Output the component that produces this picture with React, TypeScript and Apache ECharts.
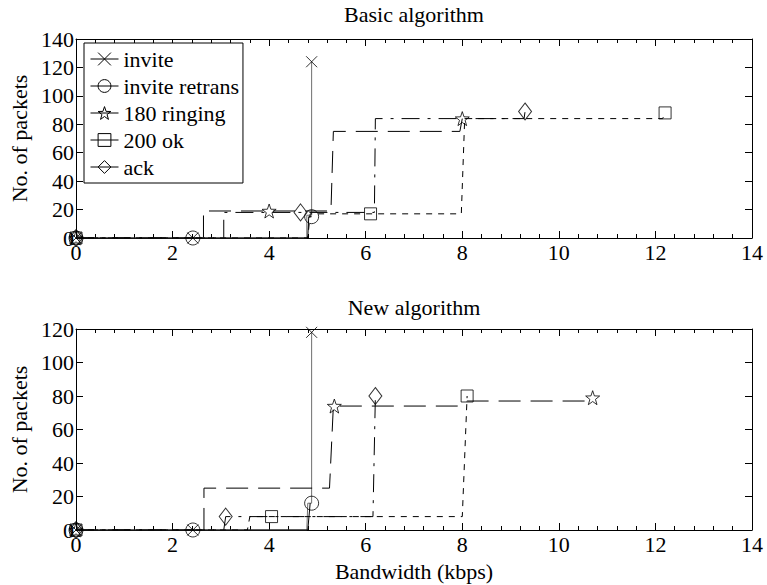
import React, { useEffect, useRef } from "react";
import * as echarts from "echarts";

// ---------- data (Bandwidth kbps, No. of packets) ----------
const seriesNames = ["invite", "invite retrans", "180 ringing", "200 ok", "ack"];
const xTicks = [0, 2, 4, 6, 8, 10, 12, 14];

// Basic algorithm
const basicInvite = [[0, 0], [2.42, 0], [4.78, 0], [4.78, 16], [4.88, 16], [4.88, 124]];
const basicInviteMarks = [[0, 0], [2.42, 0], [4.88, 124]];
const basicRetrans = [[0, 0], [2.42, 0], [4.8, 0], [4.82, 15], [4.88, 15]];
const basicRetransMarks = [[0, 0], [2.42, 0], [4.88, 15]];
const basicRinging = [[0, 0], [2.64, 0], [2.64, 19], [5.28, 19], [5.33, 75], [7.95, 75], [8.0, 84]];
const basicRingingMarks = [[0, 0], [4.0, 19], [8.0, 84]];
const basicOk = [[0, 0], [4.8, 0], [4.85, 17], [7.98, 17], [8.05, 84], [12.15, 84], [12.2, 88]];
const basicOkMarks = [[0, 0], [6.1, 17], [12.2, 88]];
const basicAck = [[0, 0], [3.06, 0], [3.06, 18], [6.18, 18], [6.2, 84], [9.28, 84], [9.3, 89]];
const basicAckMarks = [[0, 0], [4.65, 18], [9.3, 89]];

// New algorithm
const newInvite = [[0, 0], [2.42, 0], [4.78, 0], [4.8, 16], [4.88, 16], [4.88, 118]];
const newInviteMarks = [[0, 0], [2.42, 0], [4.88, 118]];
const newRetrans = [[0, 0], [2.42, 0], [4.8, 0], [4.85, 16]];
const newRetransMarks = [[0, 0], [2.42, 0], [4.88, 16]];
const newRinging = [[0, 0], [2.65, 0], [2.65, 25], [5.25, 25], [5.33, 74], [7.9, 74], [8.1, 77], [10.6, 77], [10.7, 79]];
const newRingingMarks = [[0, 0], [5.35, 74], [10.7, 79]];
const newOk = [[0, 0], [3.55, 0], [3.6, 8], [8.0, 8], [8.1, 80]];
const newOkMarks = [[0, 0], [4.05, 8], [8.1, 80]];
const newAck = [[0, 0], [3.06, 0], [3.1, 8], [6.15, 8], [6.2, 80]];
const newAckMarks = [[0, 0], [3.1, 8], [6.2, 80]];

const FONT = "Liberation Serif";
const FS = 22;

const X_PATH = "path://M0,0L10,10M10,0L0,10";
const STAR_PATH =
  "path://M10,0L12.35,6.76L19.51,6.91L13.8,11.24L15.88,18.09L10,14L4.12,18.09L6.2,11.24L0.49,6.91L7.65,6.76Z";

const styles: Record<string, any> = {
  invite: { color: "#6e6e6e", type: "solid", symbol: X_PATH, size: 11 },
  "invite retrans": { color: "#000", type: "solid", symbol: "circle", size: 14 },
  "180 ringing": { color: "#000", type: [22, 10], symbol: STAR_PATH, size: 14 },
  "200 ok": { color: "#000", type: [6, 6], symbol: "rect", size: 12 },
  ack: { color: "#000", type: [18, 8, 3, 8], symbol: "diamond", size: [13, 17] },
};

const hollow = { color: "rgba(255,255,255,0)", borderColor: "#000", borderWidth: 1 };

function makeSeries(name: string, pts: number[][], marks: number[][], xi: number, yi: number) {
  const s = styles[name];
  return [
    {
      type: "line",
      name,
      xAxisIndex: xi,
      yAxisIndex: yi,
      data: pts,
      symbol: s.symbol,
      symbolSize: s.size,
      showSymbol: false,
      lineStyle: { color: s.color, width: 1, type: s.type },
      itemStyle: hollow,
      z: 3,
    },
    {
      type: "scatter",
      name,
      xAxisIndex: xi,
      yAxisIndex: yi,
      data: marks,
      symbol: s.symbol,
      symbolSize: s.size,
      itemStyle: hollow,
      z: 4,
    },
  ];
}

function xAxes(gridIndex: number, withName: boolean) {
  const common = {
    type: "value",
    gridIndex,
    min: xTicks[0],
    max: xTicks[xTicks.length - 1],
    interval: 2,
    axisLine: { show: true, onZero: false, lineStyle: { color: "#000", width: 1 } },
    axisTick: { show: true, inside: true, length: 7, lineStyle: { color: "#000" } },
    minorTick: { show: true, splitNumber: 5, length: 4, lineStyle: { color: "#000" } },
    splitLine: { show: false },
  };
  return [
    {
      ...common,
      position: "bottom",
      axisLabel: { color: "#000", fontFamily: FONT, fontSize: FS, margin: 3 },
      ...(withName
        ? {
            name: "Bandwidth (kbps)",
            nameLocation: "middle",
            nameGap: 30,
            nameTextStyle: { color: "#000", fontFamily: FONT, fontSize: FS },
          }
        : {}),
    },
    { ...common, position: "top", axisLabel: { show: false } },
  ];
}

function yAxes(gridIndex: number, max: number) {
  const common = {
    type: "value",
    gridIndex,
    min: 0,
    max,
    interval: 20,
    axisLine: { show: true, onZero: false, lineStyle: { color: "#000", width: 1 } },
    axisTick: { show: true, inside: true, length: 7, lineStyle: { color: "#000" } },
    splitLine: { show: false },
  };
  return [
    {
      ...common,
      position: "left",
      axisLabel: { color: "#000", fontFamily: FONT, fontSize: FS, margin: 2 },
      name: "No. of packets",
      nameLocation: "middle",
      nameGap: 44,
      nameTextStyle: { color: "#000", fontFamily: FONT, fontSize: FS },
    },
    { ...common, position: "right", axisLabel: { show: false } },
  ];
}

export default function App() {
  const ref = useRef<HTMLDivElement>(null);
  useEffect(() => {
    if (!ref.current) return;
    const chart = echarts.init(ref.current, null, { renderer: "svg" });
    const series = [
      ...makeSeries("invite", basicInvite, basicInviteMarks, 0, 0),
      ...makeSeries("invite retrans", basicRetrans, basicRetransMarks, 0, 0),
      ...makeSeries("180 ringing", basicRinging, basicRingingMarks, 0, 0),
      ...makeSeries("200 ok", basicOk, basicOkMarks, 0, 0),
      ...makeSeries("ack", basicAck, basicAckMarks, 0, 0),
      ...makeSeries("invite", newInvite, newInviteMarks, 2, 2),
      ...makeSeries("invite retrans", newRetrans, newRetransMarks, 2, 2),
      ...makeSeries("180 ringing", newRinging, newRingingMarks, 2, 2),
      ...makeSeries("200 ok", newOk, newOkMarks, 2, 2),
      ...makeSeries("ack", newAck, newAckMarks, 2, 2),
    ];
    chart.setOption({
      animation: false,
      backgroundColor: "#fff",
      textStyle: { fontFamily: FONT },
      grid: [
        { left: 76, top: 39, width: 676, height: 199 },
        { left: 76, top: 329, width: 676, height: 201 },
      ],
      xAxis: [...xAxes(0, false), ...xAxes(1, true)],
      yAxis: [...yAxes(0, 140), ...yAxes(1, 120)],
      legend: {
        data: seriesNames,
        orient: "vertical",
        left: 84,
        top: 43,
        padding: [5, 4, 5, 6],
        itemGap: 5,
        itemWidth: 28,
        itemHeight: 16,
        selectedMode: false,
        backgroundColor: "#fff",
        borderColor: "#000",
        borderWidth: 1,
        textStyle: { color: "#000", fontFamily: FONT, fontSize: FS, lineHeight: 22 },
        lineStyle: { type: "solid", color: "#000", width: 1 },
        itemStyle: hollow,
      },
      graphic: [
        {
          type: "text",
          x: 414,
          y: 14,
          style: { text: "Basic algorithm", fill: "#000", fontFamily: FONT, fontSize: FS, textAlign: "center", textVerticalAlign: "middle" },
        },
        {
          type: "text",
          x: 414,
          y: 307,
          style: { text: "New algorithm", fill: "#000", fontFamily: FONT, fontSize: FS, textAlign: "center", textVerticalAlign: "middle" },
        },
      ],
      series,
    });
    return () => chart.dispose();
  }, []);
  return (
    <div
      ref={ref}
      style={{ position: "fixed", left: 0, top: 0, width: 767, height: 585, background: "#fff" }}
    />
  );
}
